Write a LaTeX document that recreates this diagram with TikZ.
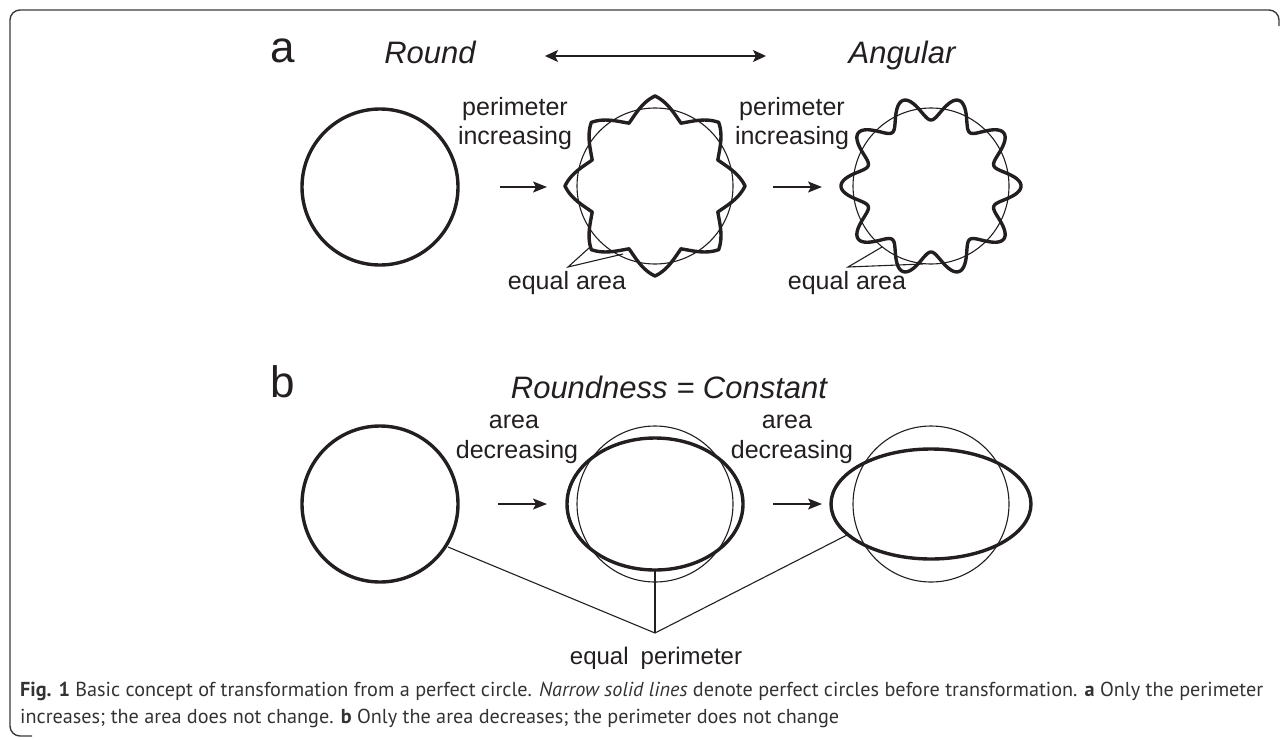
\documentclass[tikz,border=0pt]{standalone}
\usepackage{fontspec}
\setmainfont{Liberation Sans}
\newfontfamily\capfont{PT Sans}
\usetikzlibrary{arrows.meta}
\definecolor{ink}{HTML}{231F20}
\definecolor{capink}{HTML}{333333}
\definecolor{framegray}{HTML}{3A3A3A}

% caption lines, scaled so the first line spans the frame
\newcommand\capsize{\capfont\fontsize{20}{24}\selectfont}
\newcommand\caplineone{\textbf{Fig. 1} Basic concept of transformation from a perfect circle. \textit{Narrow solid lines} denote perfect circles before transformation. \textbf{a} Only the perimeter}
\newcommand\caplinetwo{increases; the area does not change. \textbf{b} Only the area decreases; the perimeter does not change}
\newlength\caplen
\settowidth\caplen{\capsize\caplineone}

\begin{document}
\begin{tikzpicture}[x=1pt,y=-1pt,
  boldcurve/.style={draw=ink, line width=3.4pt, line join=round},
  finecurve/.style={draw=ink, line width=1.1pt},
  leader/.style={draw=ink, line width=1.1pt},
  flow/.style={draw=ink, line width=1.3pt, -{Stealth[length=14pt,width=11pt,inset=3pt]}},
  twoway/.style={draw=ink, line width=1.3pt, {Stealth[length=13pt,width=12pt,inset=3pt]}-{Stealth[length=13pt,width=12pt,inset=3pt]}},
  lbl/.style={font=\fontsize{25}{30}\selectfont, text=ink, inner sep=0pt, anchor=base},
  ttl/.style={font=\fontsize{31}{37}\selectfont\itshape, text=ink, inner sep=0pt, anchor=base},
  panel/.style={font=\fontsize{44}{50}\selectfont, text=ink, inner sep=0pt, anchor=base},
  captext/.style={font=\capsize, text=capink, inner sep=0pt, anchor=base west},
]
\useasboundingbox (0,0) rectangle (1287,739);

% frame
\draw[framegray, line width=1.4pt, rounded corners=10pt]
  (32,736) -- (10,736) -- (10,10) -- (1279,10) -- (1279,26);

% ---------- panel a ----------
\node[panel] (pa) at (283,62) {a};
\node[ttl] (tround) at (430,63) {Round};
\node[ttl] (tangular) at (902,63) {Angular};
\coordinate (dl) at (545,56);
\coordinate (dr) at (766,56);
\draw[twoway] (dl) -- (dr);

% perfect circle
\draw[boldcurve] (380,187) circle[radius=78];

% eight-lobed zigzag outline
\begin{scope}[shift={(655,186)}]
  \draw[finecurve] (0,0) circle[radius=78];
  \draw[boldcurve] plot[domain=0:360, samples=1441]
    (\x:{79+11*(0.75*asin(cos(8*\x))/90+0.25*cos(8*\x))}) -- cycle;
\end{scope}

% ten-lobed wavy outline
\begin{scope}[shift={(931,186)}]
  \draw[finecurve] (0,0) circle[radius=78];
  \draw[boldcurve] plot[domain=0:360, samples=721]
    (\x:{78+12*cos(10*\x)}) -- cycle;
\end{scope}

\coordinate (a1s) at (500,187);
\coordinate (a1e) at (547,187);
\coordinate (a2s) at (773,187);
\coordinate (a2e) at (822,187);
\draw[flow] (a1s) -- (a1e);
\draw[flow] (a2s) -- (a2e);

\node[lbl] (pi1a) at (515,115) {perimeter};
\node[lbl] (pi1b) at (515,144) {increasing};
\node[lbl] (pi2a) at (792,115) {perimeter};
\node[lbl] (pi2b) at (792,144) {increasing};

\node[lbl] (ea1) at (567,289) {equal area};
\node[lbl] (ea2) at (847,289) {equal area};
\coordinate (ea1apex) at (568,267);
\coordinate (ea1p) at (589,248);
\coordinate (ea1q) at (623,254);
\coordinate (ea2apex) at (848,267);
\coordinate (ea2p) at (882,247);
\coordinate (ea2q) at (923,264);
\draw[leader] (ea1p) -- (ea1apex) -- (ea1q);
\draw[leader] (ea2p) -- (ea2apex) -- (ea2q);

% ---------- panel b ----------
\node[panel] (pb) at (283,397) {b};
\node[ttl] (tconst) at (669,398) {Roundness = Constant};

\draw[boldcurve] (380,504) circle[radius=78];
\draw[finecurve] (655,504) circle[radius=78];
\draw[boldcurve] (655,504) ellipse[x radius=88, y radius=66];
\draw[finecurve] (931,504) circle[radius=78];
\draw[boldcurve] (931,504) ellipse[x radius=100, y radius=55];

\coordinate (b1s) at (498,504);
\coordinate (b1e) at (547,504);
\coordinate (b2s) at (773,504);
\coordinate (b2e) at (822,504);
\draw[flow] (b1s) -- (b1e);
\draw[flow] (b2s) -- (b2e);

\node[lbl] (ad1a) at (514,428) {area};
\node[lbl] (ad1b) at (517,458) {decreasing};
\node[lbl] (ad2a) at (787,428) {area};
\node[lbl] (ad2b) at (792,458) {decreasing};

\node[lbl, font=\fontsize{24}{29}\selectfont] (ep) at (656,664) {equal\hspace{0.5em}perimeter};
\coordinate (epapex) at (655,633);
\coordinate (ep1) at (448,547);
\coordinate (ep2) at (655,570);
\coordinate (ep3) at (847,535);
\draw[leader] (ep1) -- (epapex) -- (ep3);
\draw[leader] (epapex) -- (ep2);

% ---------- caption ----------
\pgfmathsetmacro\capscale{1243/\caplen}
\node[captext, scale=\capscale] (cap1) at (20,696) {\caplineone};
\node[captext, scale=\capscale] (cap2) at (20,723) {\caplinetwo};
\end{tikzpicture}
\end{document}
